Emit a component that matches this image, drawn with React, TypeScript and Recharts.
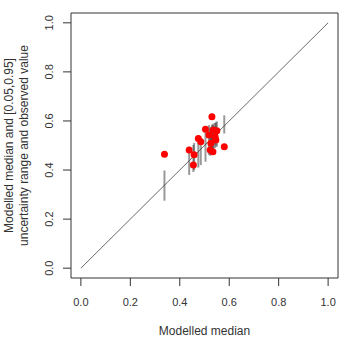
import {
  ComposedChart,
  Scatter,
  ErrorBar,
  XAxis,
  YAxis,
  ReferenceLine,
  ReferenceArea,
} from 'recharts'

// modelled medians (x), 0.05/0.95 bounds and observed values
const medians = [0.338, 0.438, 0.455, 0.458, 0.475, 0.485, 0.504, 0.518, 0.523, 0.526, 0.53, 0.534, 0.536, 0.543, 0.546, 0.55, 0.58]
const lower = [0.275, 0.38, 0.392, 0.4, 0.41, 0.42, 0.434, 0.462, 0.458, 0.468, 0.47, 0.482, 0.478, 0.49, 0.5, 0.495, 0.549]
const upper = [0.398, 0.495, 0.502, 0.51, 0.515, 0.525, 0.556, 0.583, 0.57, 0.576, 0.585, 0.583, 0.59, 0.592, 0.595, 0.598, 0.623]
const observed = [0.464, 0.482, 0.421, 0.462, 0.529, 0.515, 0.566, 0.543, 0.482, 0.509, 0.617, 0.475, 0.563, 0.536, 0.522, 0.56, 0.495]

const ticks = [0, 0.2, 0.4, 0.6, 0.8, 1]
const domain: [number, number] = [-0.04, 1.04]
const diagonal = [0, 1]

const FONT = '"Liberation Sans", Arial, sans-serif'
const INK = '#333'

const ranges = medians.map((m, i) => ({
  x: m,
  y: m,
  err: [m - lower[i], upper[i] - m],
}))
const points = medians.map((m, i) => ({ x: m, y: observed[i] }))

function YTick({ x, y, payload }: any) {
  return (
    <text
      x={x}
      y={y}
      transform={`rotate(-90 ${x} ${y})`}
      textAnchor="middle"
      fontSize={11}
      fontFamily={FONT}
      fill={INK}
    >
      {Number(payload.value).toFixed(1)}
    </text>
  )
}

function YTitle({ viewBox }: any) {
  const cy = viewBox.y + viewBox.height / 2
  const lines = ['Modelled median and [0.05,0.95]', 'uncertainty range and observed value']
  return (
    <g>
      {lines.map((t, i) => {
        const x = 13 + i * 14.5
        return (
          <text
            key={t}
            x={x}
            y={cy}
            transform={`rotate(-90 ${x} ${cy})`}
            textAnchor="middle"
            fontSize={12}
            fontFamily={FONT}
            fill={INK}
          >
            {t}
          </text>
        )
      })}
    </g>
  )
}

const Dot = (props: any) => <circle cx={props.cx} cy={props.cy} r={3.5} fill="#ff0000" />
const NoDot = () => <g />

export default function App() {
  return (
    <div style={{ position: 'absolute', left: 0, top: 0, background: '#fff' }}>
      <ComposedChart
        width={341}
        height={338}
        margin={{ top: 13, right: 3, bottom: 0, left: 0 }}
      >
        <XAxis
          type="number"
          dataKey="x"
          domain={domain}
          ticks={ticks}
          axisLine={false}
          tickLine={{ stroke: INK }}
          tickSize={8}
          tickMargin={12}
          height={60}
          tickFormatter={(v: number) => v.toFixed(1)}
          tick={{ fontSize: 11, fontFamily: FONT, fill: INK }}
          label={{
            value: 'Modelled median',
            position: 'insideBottom',
            offset: 3,
            fontSize: 12,
            fontFamily: FONT,
            fill: INK,
          }}
        />
        <YAxis
          type="number"
          dataKey="y"
          domain={domain}
          ticks={ticks}
          axisLine={false}
          tickLine={{ stroke: INK }}
          tickSize={8}
          tickMargin={10}
          width={71}
          tick={<YTick />}
          label={<YTitle />}
        />
        <ReferenceArea
          x1={domain[0]}
          x2={domain[1]}
          y1={domain[0]}
          y2={domain[1]}
          fill="none"
          stroke={INK}
          strokeWidth={1}
        />
        <ReferenceLine
          segment={diagonal.map((v) => ({ x: v, y: v }))}
          stroke="#444"
          strokeWidth={0.8}
        />
        <Scatter data={ranges} shape={<NoDot />} isAnimationActive={false}>
          <ErrorBar
            dataKey="err"
            direction="y"
            width={0}
            stroke="#333"
            strokeWidth={2}
            strokeOpacity={0.5}
            isAnimationActive={false}
          />
        </Scatter>
        <Scatter data={points} shape={<Dot />} isAnimationActive={false} />
      </ComposedChart>
    </div>
  )
}
